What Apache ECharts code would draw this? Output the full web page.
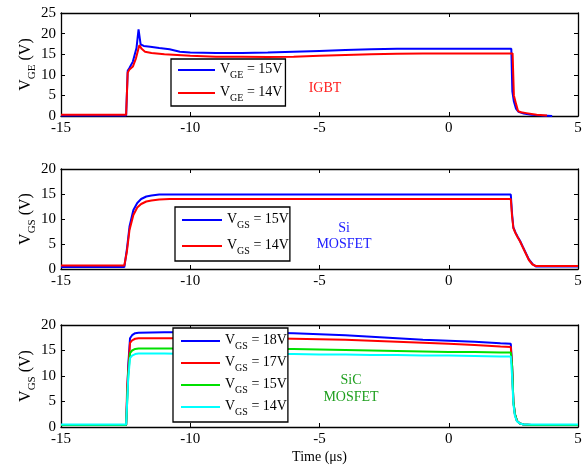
<!DOCTYPE html>
<html>
<head>
<meta charset="utf-8">
<script src="https://cdn.jsdelivr.net/npm/echarts@6/dist/echarts.min.js"></script>
<style>
  html, body { margin: 0; padding: 0; background: #fff; }
  #chart { width: 587px; height: 467px; }
</style>
</head>
<body>
<div id="chart"></div>
<script>
// axis ranges
var xMin = -15, xMax = 5, xStep = 5;
var yMaxs = [25, 20, 20];
var yStep = 5;

// IGBT, V_GE
var igbt15T = [-15, -12.48, -12.42, -12.36, -12.22, -12.08, -12.0, -11.92, -11.8, -11.55, -11.2, -10.8, -10.4, -10, -9, -8, -7, -6, -5, -4, -3, -2, -1, 0, 1, 2, 2.42, 2.46, 2.52, 2.6, 2.7, 2.9, 3.2, 3.6, 4.0];
var igbt15 = [0.1, 0.1, 11.0, 11.6, 13.2, 16.5, 21.0, 17.4, 17.0, 16.8, 16.5, 16.2, 15.6, 15.4, 15.3, 15.3, 15.4, 15.6, 15.8, 16.0, 16.2, 16.3, 16.3, 16.3, 16.3, 16.3, 16.3, 6.0, 3.5, 1.8, 1.0, 0.6, 0.3, 0.1, 0.0];
var igbt14T = [-15, -12.48, -12.42, -12.36, -12.22, -12.1, -11.97, -11.88, -11.75, -11.5, -11, -10.5, -10, -9, -8, -7, -6, -5, -4, -3, -2, -1, 0, 1, 2, 2.47, 2.52, 2.6, 2.68, 2.8, 3.0, 3.4, 3.8];
var igbt14 = [0.3, 0.3, 10.5, 11.2, 12.0, 14.0, 17.2, 16.3, 15.6, 15.3, 15.0, 14.8, 14.6, 14.4, 14.4, 14.3, 14.4, 14.6, 14.8, 15.0, 15.1, 15.2, 15.2, 15.2, 15.2, 15.2, 5.0, 3.0, 1.2, 0.9, 0.7, 0.3, 0.1];

// Si MOSFET, V_GS
var siT = [-15, -12.55, -12.45, -12.35, -12.2, -12.05, -11.9, -11.7, -11.5, -11.2, -10.8, -10, -5, 0, 2.4, 2.45, 2.5, 2.58, 2.66, 2.76, 2.86, 2.98, 3.1, 3.24, 3.37, 3.6, 5];
var si15 = [0.4, 0.4, 4.0, 8.5, 11.8, 13.2, 14.0, 14.5, 14.7, 14.9, 14.9, 14.9, 14.9, 14.9, 14.9, 11.0, 8.3, 7.3, 6.5, 5.6, 4.5, 3.2, 1.9, 1.0, 0.5, 0.5, 0.5];
var si14 = [0.7, 0.7, 3.5, 7.8, 10.8, 12.3, 13.0, 13.5, 13.7, 13.9, 14.0, 14.0, 14.0, 14.0, 14.0, 10.5, 8.2, 7.2, 6.4, 5.5, 4.4, 3.1, 1.8, 0.9, 0.6, 0.6, 0.6];

// SiC MOSFET, V_GS
var sicT = [-15, -12.48, -12.44, -12.4, -12.33, -12.25, -12.13, -12.0, -11, -10, -9, -8, -7, -6, -5, -4, -3, -2, -1, 0, 1, 2, 2.4, 2.45, 2.5, 2.56, 2.64, 2.75, 2.9, 3.2, 5];
var sic18 = [0.4, 0.4, 6, 12, 17.4, 18.0, 18.4, 18.5, 18.6, 18.6, 18.5, 18.5, 18.5, 18.4, 18.2, 18.0, 17.7, 17.4, 17.1, 16.9, 16.7, 16.4, 16.3, 12, 5, 2.5, 1.2, 0.7, 0.5, 0.4, 0.4];
var sic17 = [0.4, 0.4, 8, 11, 16.5, 17.0, 17.3, 17.4, 17.4, 17.4, 17.4, 17.4, 17.4, 17.3, 17.2, 17.1, 16.9, 16.7, 16.5, 16.3, 16.1, 15.8, 15.7, 12, 5, 2.5, 1.2, 0.7, 0.5, 0.4, 0.4];
var sic15 = [0.4, 0.4, 5, 10, 14.5, 15.0, 15.3, 15.4, 15.4, 15.4, 15.3, 15.3, 15.3, 15.3, 15.2, 15.1, 15.0, 14.9, 14.8, 14.7, 14.7, 14.6, 14.6, 12, 5, 2.5, 1.2, 0.7, 0.5, 0.4, 0.4];
var sic14 = [0.5, 0.5, 5, 9.5, 13.5, 14.0, 14.3, 14.4, 14.4, 14.3, 14.3, 14.3, 14.3, 14.3, 14.2, 14.2, 14.1, 14.1, 14.0, 14.0, 13.9, 13.8, 13.8, 10, 4.5, 2.2, 1.1, 0.7, 0.5, 0.5, 0.5];

var legendText = {
    igbt15: '{v|V}{s|GE}{v| = 15V}',
    igbt14: '{v|V}{s|GE}{v| = 14V}',
    si15: '{v|V}{s|GS}{v| = 15V}',
    si14: '{v|V}{s|GS}{v| = 14V}',
    sic18: '{v|V}{s|GS}{v| = 18V}',
    sic17: '{v|V}{s|GS}{v| = 17V}',
    sic15: '{v|V}{s|GS}{v| = 15V}',
    sic14: '{v|V}{s|GS}{v| = 14V}'
};
var yNames = ['{v|V}{s|GE}{v| (V)}', '{v|V}{s|GS}{v| (V)}', '{v|V}{s|GS}{v| (V)}'];

var FONT = 'Liberation Serif';
var BLUE = '#0000ff', RED = '#ff0000', GREEN = '#00e000', CYAN = '#00ffff';

var chart = echarts.init(document.getElementById('chart'), null, { renderer: 'canvas' });

var grids = [
    { left: 61, top: 13, width: 517, height: 103 },
    { left: 61, top: 169, width: 517, height: 100 },
    { left: 61, top: 325, width: 517, height: 102 }
];

var frameLine = { show: true, onZero: false, lineStyle: { color: '#000', width: 1.3 } };
var tick = { show: true, inside: true, length: 4, lineStyle: { color: '#000' } };

var xAxes = [], yAxes = [];
grids.forEach(function (g, i) {
    // bottom + top
    xAxes.push({
        type: 'value', gridIndex: i, min: xMin, max: xMax, interval: xStep, position: 'bottom',
        axisLine: frameLine, axisTick: tick,
        axisLabel: { color: '#000', fontFamily: FONT, fontSize: 15, margin: 5 },
        splitLine: { show: false },
        name: i == 2 ? 'Time (μs)' : '', nameLocation: 'middle', nameGap: 23,
        nameTextStyle: { color: '#000', fontFamily: FONT, fontSize: 14 }
    });
    xAxes.push({
        type: 'value', gridIndex: i, min: xMin, max: xMax, interval: xStep, position: 'top',
        axisLine: frameLine, axisTick: tick,
        axisLabel: { show: false },
        splitLine: { show: false }
    });
    // left + right
    yAxes.push({
        type: 'value', gridIndex: i, min: 0, max: yMaxs[i], interval: yStep, position: 'left',
        axisLine: frameLine, axisTick: tick,
        axisLabel: { color: '#000', fontFamily: FONT, fontSize: 15, margin: 5 },
        splitLine: { show: false },
        name: yNames[i], nameLocation: 'middle', nameRotate: 90, nameGap: 25,
        nameMoveOverlap: false,
        nameTextStyle: {
            rich: {
                v: { fontFamily: FONT, fontSize: 16, color: '#000', lineHeight: 18, verticalAlign: 'top' },
                s: { fontFamily: FONT, fontSize: 11, color: '#000', lineHeight: 11, padding: [9, 0, 0, 0], verticalAlign: 'top' }
            }
        }
    });
    yAxes.push({
        type: 'value', gridIndex: i, min: 0, max: yMaxs[i], interval: yStep, position: 'right',
        axisLine: frameLine, axisTick: tick,
        axisLabel: { show: false },
        splitLine: { show: false }
    });
});

function zip(ts, vs) {
    return ts.map(function (t, k) { return [t, vs[k]]; });
}

function line(name, gi, ts, vs, color) {
    return {
        name: name, type: 'line', xAxisIndex: gi * 2, yAxisIndex: gi * 2,
        data: zip(ts, vs), symbol: 'none', showSymbol: false,
        lineStyle: { color: color, width: 2 }, itemStyle: { color: color },
        animation: false
    };
}

var legendRich = {
    v: { fontFamily: FONT, fontSize: 14, color: '#000', lineHeight: 16, verticalAlign: 'top' },
    s: { fontFamily: FONT, fontSize: 10, color: '#000', lineHeight: 10, padding: [8, 0, 0, 0], verticalAlign: 'top' }
};

function legend(names, left, top, pad, gap, w, textGap) {
    return {
        data: names, left: left, top: top, orient: 'vertical',
        padding: pad, itemGap: gap, itemWidth: w, itemHeight: 2, itemTextGap: textGap,
        icon: 'rect', selectedMode: false,
        borderColor: '#000', borderWidth: 1.3, backgroundColor: '#fff',
        formatter: function (n) { return legendText[n]; },
        textStyle: { rich: legendRich }
    };
}

var labelFont = '14px "Liberation Serif"';

var option = {
    backgroundColor: '#fff',
    animation: false,
    grid: grids,
    xAxis: xAxes,
    yAxis: yAxes,
    legend: [
        legend(['igbt15', 'igbt14'], 171, 59, [3, 3, 3, 7], 5, 37, 6),
        legend(['si15', 'si14'], 175, 207, [5, 1, 5, 7], 8, 40, 2),
        legend(['sic18', 'sic17', 'sic15', 'sic14'], 173, 328, [5, 1, 5, 8], 4, 39, 2)
    ],
    series: [
        line('igbt15', 0, igbt15T, igbt15, BLUE),
        line('igbt14', 0, igbt14T, igbt14, RED),
        line('si15', 1, siT, si15, BLUE),
        line('si14', 1, siT, si14, RED),
        line('sic18', 2, sicT, sic18, BLUE),
        line('sic17', 2, sicT, sic17, RED),
        line('sic15', 2, sicT, sic15, GREEN),
        line('sic14', 2, sicT, sic14, CYAN)
    ],
    graphic: [
        { type: 'text', x: 325, y: 88, style: { text: 'IGBT', fill: '#ff2020', font: labelFont, align: 'center', verticalAlign: 'middle' } },
        { type: 'text', x: 344, y: 236, style: { text: 'Si\nMOSFET', fill: '#2020ff', font: labelFont, align: 'center', verticalAlign: 'middle', lineHeight: 16 } },
        { type: 'text', x: 351, y: 389, style: { text: 'SiC\nMOSFET', fill: '#1f9f1f', font: labelFont, align: 'center', verticalAlign: 'middle', lineHeight: 17 } }
    ]
};

chart.setOption(option);
</script>
</body>
</html>
